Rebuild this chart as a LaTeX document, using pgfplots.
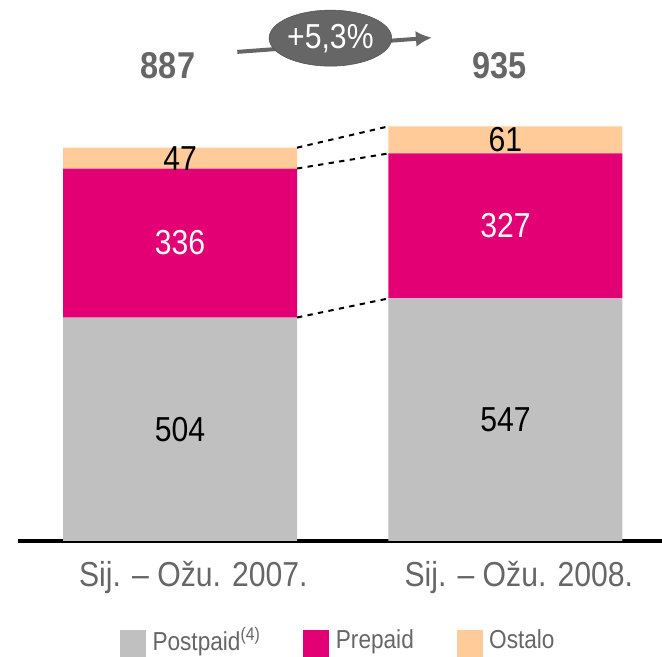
\documentclass[border=0pt]{standalone}
\usepackage{pgfplots}
\pgfplotsset{compat=1.18}
\usetikzlibrary{shapes.geometric,arrows.meta}
\usepackage{fontspec}
\setmainfont{Liberation Sans}[FakeStretch=0.87]
\definecolor{cpost}{HTML}{C0C0C0}
\definecolor{cpre}{HTML}{E20074}
\definecolor{cost}{HTML}{FFCC99}
\definecolor{tgray}{HTML}{666666}
\begin{document}
\begin{tikzpicture}[x=0.75pt,y=0.75pt]
\begin{axis}[
  at={(0,0)}, anchor=south west,
  scale only axis, width=483pt, height=405.75pt,
  xmin=-0.498, xmax=1.481, ymin=0, ymax=1220,
  ybar stacked, bar width=175.5pt,
  axis y line=none, axis x line*=bottom,
  x axis line style={line width=3pt, black, -},
  xtick={0,1}, xticklabels={Sij. – Ožu. 2007., Sij. – Ožu. 2008.},
  xtick style={draw=none},
  xticklabel style={font=\fontsize{26}{30}\selectfont, text=tgray, yshift=-12pt, xshift=10pt},
  clip=false,
  legend columns=3,
  legend style={draw=none, fill=none, at={(axis cs:0.487,-225)}, anchor=center,
    font=\fontsize{19.5}{22}\selectfont, text=tgray,
    /tikz/every odd column/.append style={column sep=3pt},
    /tikz/every even column/.append style={column sep=30pt}},
  legend image code/.code={\fill[#1] (0pt,-12.5pt) rectangle (19.5pt,7.5pt);},
]
\addplot[fill=cpost, draw=none] coordinates {(0,504) (1,547)};
\addlegendentry{Postpaid\textsuperscript{(4)}}
\addplot[fill=cpre, draw=none] coordinates {(0,336) (1,327)};
\addlegendentry{Prepaid}
\addplot[fill=cost, draw=none] coordinates {(0,47) (1,61)};
\addlegendentry{Ostalo}

\coordinate (l1) at (axis cs:0,252);
\coordinate (l2) at (axis cs:0,672);
\coordinate (l3) at (axis cs:0,863.5);
\coordinate (l4) at (axis cs:1,273.5);
\coordinate (l5) at (axis cs:1,710.5);
\coordinate (l6) at (axis cs:1,904.5);
\coordinate (d1a) at (axis cs:0.3595,504);
\coordinate (d1b) at (axis cs:0.6405,547);
\coordinate (d2a) at (axis cs:0.3595,840);
\coordinate (d2b) at (axis cs:0.6405,874);
\coordinate (d3a) at (axis cs:0.3595,887);
\coordinate (d3b) at (axis cs:0.6405,935);
\coordinate (t1) at (axis cs:-0.037,1071);
\coordinate (t2) at (axis cs:0.983,1071);
\coordinate (aa) at (axis cs:0.176,1103);
\coordinate (ab) at (axis cs:0.774,1135);
\coordinate (ec) at (axis cs:0.462,1134);
\end{axis}
\node[font=\fontsize{26}{30}\selectfont] at (l1) {504};
\node[font=\fontsize{26}{30}\selectfont, white] at (l2) {336};
\node[font=\fontsize{26}{30}\selectfont] at (l3) {47};
\node[font=\fontsize{26}{30}\selectfont] at (l4) {547};
\node[font=\fontsize{26}{30}\selectfont, white] at (l5) {327};
\node[font=\fontsize{26}{30}\selectfont] at (l6) {61};
\draw[black, line width=1.5pt, dash pattern=on 4pt off 4pt] (d1a) -- (d1b);
\draw[black, line width=1.5pt, dash pattern=on 4pt off 4pt] (d2a) -- (d2b);
\draw[black, line width=1.5pt, dash pattern=on 4pt off 4pt] (d3a) -- (d3b);
\node[font=\bfseries\fontsize{28}{32}\selectfont, text=tgray] at (t1) {887};
\node[font=\bfseries\fontsize{28}{32}\selectfont, text=tgray] at (t2) {935};
\draw[tgray, line width=3pt, -{Latex[length=12pt,width=12pt]}] (aa) -- (ab);
\node[ellipse, fill=tgray, draw=tgray!80!black, minimum width=92pt, minimum height=42pt, inner sep=0pt,
  text=white, font=\fontsize{26}{30}\selectfont] at (ec) {+5,3\%};
\pgfresetboundingbox
\path (-13.5pt,-87pt) rectangle (483pt,405.75pt);
\end{tikzpicture}
\end{document}
